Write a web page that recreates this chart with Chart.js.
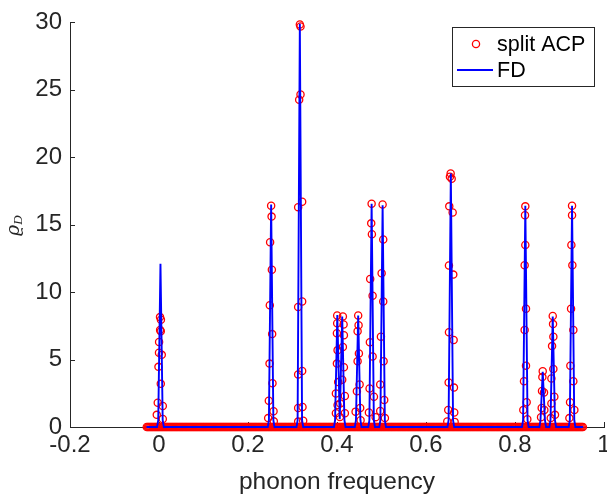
<!DOCTYPE html>
<html>
<head>
<meta charset="utf-8">
<script src="https://cdn.jsdelivr.net/npm/chart.js@4/dist/chart.umd.min.js"></script>
<style>
  html, body { margin: 0; padding: 0; background: #fff; overflow: hidden; }
  canvas { display: block; }
</style>
</head>
<body>
<canvas id="chart" width="630" height="497" style="width:630px;height:497px"></canvas>
<script>
// tick labels
var xTicks = [-0.2, 0, 0.2, 0.4, 0.6, 0.8, 1];
var yTicks = [0, 5, 10, 15, 20, 25, 30];

// split ACP samples lying on the zero line
var baseFreq = [
  -0.0275, -0.025, -0.0225, -0.02, -0.0175, -0.015, -0.0125, -0.01, -0.0075, -0.005, -0.0025,
  0, 0.0025, 0.005, 0.0075, 0.01, 0.0125, 0.015, 0.0175, 0.02, 0.0225, 0.025, 0.0275, 0.03, 0.0325, 0.035, 0.0375, 0.04, 0.0425, 0.045, 0.0475,
  0.05, 0.0525, 0.055, 0.0575, 0.06, 0.0625, 0.065, 0.0675, 0.07, 0.0725, 0.075, 0.0775, 0.08, 0.0825, 0.085, 0.0875, 0.09, 0.0925, 0.095, 0.0975,
  0.1, 0.1025, 0.105, 0.1075, 0.11, 0.1125, 0.115, 0.1175, 0.12, 0.1225, 0.125, 0.1275, 0.13, 0.1325, 0.135, 0.1375, 0.14, 0.1425, 0.145, 0.1475,
  0.15, 0.1525, 0.155, 0.1575, 0.16, 0.1625, 0.165, 0.1675, 0.17, 0.1725, 0.175, 0.1775, 0.18, 0.1825, 0.185, 0.1875, 0.19, 0.1925, 0.195, 0.1975,
  0.2, 0.2025, 0.205, 0.2075, 0.21, 0.2125, 0.215, 0.2175, 0.22, 0.2225, 0.225, 0.2275, 0.23, 0.2325, 0.235, 0.2375, 0.24, 0.2425, 0.245, 0.2475,
  0.25, 0.2525, 0.255, 0.2575, 0.26, 0.2625, 0.265, 0.2675, 0.27, 0.2725, 0.275, 0.2775, 0.28, 0.2825, 0.285, 0.2875, 0.29, 0.2925, 0.295, 0.2975,
  0.3, 0.3025, 0.305, 0.3075, 0.31, 0.3125, 0.315, 0.3175, 0.32, 0.3225, 0.325, 0.3275, 0.33, 0.3325, 0.335, 0.3375, 0.34, 0.3425, 0.345, 0.3475,
  0.35, 0.3525, 0.355, 0.3575, 0.36, 0.3625, 0.365, 0.3675, 0.37, 0.3725, 0.375, 0.3775, 0.38, 0.3825, 0.385, 0.3875, 0.39, 0.3925, 0.395, 0.3975,
  0.4, 0.4025, 0.405, 0.4075, 0.41, 0.4125, 0.415, 0.4175, 0.42, 0.4225, 0.425, 0.4275, 0.43, 0.4325, 0.435, 0.4375, 0.44, 0.4425, 0.445, 0.4475,
  0.45, 0.4525, 0.455, 0.4575, 0.46, 0.4625, 0.465, 0.4675, 0.47, 0.4725, 0.475, 0.4775, 0.48, 0.4825, 0.485, 0.4875, 0.49, 0.4925, 0.495, 0.4975,
  0.5, 0.5025, 0.505, 0.5075, 0.51, 0.5125, 0.515, 0.5175, 0.52, 0.5225, 0.525, 0.5275, 0.53, 0.5325, 0.535, 0.5375, 0.54, 0.5425, 0.545, 0.5475,
  0.55, 0.5525, 0.555, 0.5575, 0.56, 0.5625, 0.565, 0.5675, 0.57, 0.5725, 0.575, 0.5775, 0.58, 0.5825, 0.585, 0.5875, 0.59, 0.5925, 0.595, 0.5975,
  0.6, 0.6025, 0.605, 0.6075, 0.61, 0.6125, 0.615, 0.6175, 0.62, 0.6225, 0.625, 0.6275, 0.63, 0.6325, 0.635, 0.6375, 0.64, 0.6425, 0.645, 0.6475,
  0.65, 0.6525, 0.655, 0.6575, 0.66, 0.6625, 0.665, 0.6675, 0.67, 0.6725, 0.675, 0.6775, 0.68, 0.6825, 0.685, 0.6875, 0.69, 0.6925, 0.695, 0.6975,
  0.7, 0.7025, 0.705, 0.7075, 0.71, 0.7125, 0.715, 0.7175, 0.72, 0.7225, 0.725, 0.7275, 0.73, 0.7325, 0.735, 0.7375, 0.74, 0.7425, 0.745, 0.7475,
  0.75, 0.7525, 0.755, 0.7575, 0.76, 0.7625, 0.765, 0.7675, 0.77, 0.7725, 0.775, 0.7775, 0.78, 0.7825, 0.785, 0.7875, 0.79, 0.7925, 0.795, 0.7975,
  0.8, 0.8025, 0.805, 0.8075, 0.81, 0.8125, 0.815, 0.8175, 0.82, 0.8225, 0.825, 0.8275, 0.83, 0.8325, 0.835, 0.8375, 0.84, 0.8425, 0.845, 0.8475,
  0.85, 0.8525, 0.855, 0.8575, 0.86, 0.8625, 0.865, 0.8675, 0.87, 0.8725, 0.875, 0.8775, 0.88, 0.8825, 0.885, 0.8875, 0.89, 0.8925, 0.895, 0.8975,
  0.9, 0.9025, 0.905, 0.9075, 0.91, 0.9125, 0.915, 0.9175, 0.92, 0.9225, 0.925, 0.9275, 0.93, 0.9325, 0.935, 0.9375, 0.94, 0.9425, 0.945, 0.9475,
  0.95, 0.9525
];

// split ACP samples on the peaks
var acpFreq = [
  0.0023, 0.0043, 0.0025, 0.004, 0.0002, 0.0, 0.0062, -0.0012, 0.004, -0.0028, 0.0085, -0.005, 0.0085,
  0.252, 0.253, 0.2497, 0.2536, 0.249, 0.2543, 0.2484, 0.255, 0.2468, 0.2574, 0.2453, 0.258,
  0.3165, 0.318, 0.318, 0.315, 0.3217, 0.3127, 0.3217, 0.3127, 0.3217, 0.3127, 0.3225, 0.3127, 0.324, 0.3127,
  0.4004, 0.4004, 0.3998, 0.4013, 0.3998, 0.4027, 0.3975, 0.4013, 0.3975,
  0.4132, 0.4148, 0.4155, 0.4132, 0.4155, 0.4117, 0.4177, 0.4072, 0.4177, 0.4065,
  0.4476, 0.4485, 0.4463, 0.4492, 0.4463, 0.4508, 0.4447, 0.4521, 0.4418, 0.453,
  0.4778, 0.4769, 0.4784, 0.4746, 0.48, 0.4739, 0.48, 0.4732, 0.483, 0.4717, 0.4868,
  0.5025, 0.5039, 0.5003, 0.5039, 0.4987, 0.5047, 0.4971, 0.5061, 0.4971, 0.5077,
  0.6554, 0.6538, 0.6577, 0.6523, 0.6599, 0.6516, 0.6613, 0.6516, 0.6621, 0.6509, 0.6628, 0.65, 0.6635, 0.6478, 0.6644,
  0.8232, 0.8225, 0.8232, 0.8217, 0.8247, 0.8217, 0.8247, 0.8202, 0.8262, 0.8187, 0.8277,
  0.8623, 0.8615, 0.8607, 0.8652, 0.86, 0.866, 0.8585,
  0.8848, 0.8855, 0.8862, 0.8833, 0.8862, 0.8818, 0.8884, 0.8818, 0.8899, 0.8803,
  0.9282, 0.9282, 0.9267, 0.9289, 0.926, 0.9311, 0.9244, 0.9311, 0.9237, 0.9334, 0.9222
];
var acpRho = [
  8.15, 7.95, 7.2, 7.1, 6.3, 5.5, 5.35, 4.46, 3.2, 1.8, 1.56, 0.9, 0.6,
  16.4, 15.6, 13.7, 11.66, 9.03, 6.89, 4.7, 3.24, 1.95, 1.17, 0.66, 0.42,
  29.85, 29.7, 24.65, 24.27, 16.7, 16.3, 9.3, 8.9, 4.15, 3.9, 1.48, 1.41, 0.46, 0.4,
  8.27, 7.7, 6.96, 5.7, 4.7, 3.33, 2.48, 1.63, 1.02,
  8.2, 7.6, 6.8, 5.94, 4.43, 3.5, 2.3, 1.75, 1.02, 0.75,
  8.27, 7.55, 7.1, 5.45, 4.87, 3.16, 2.65, 1.41, 1.14, 0.5,
  16.55, 15.1, 14.3, 10.98, 9.74, 6.28, 5.23, 2.85, 2.24, 1.07, 0.73,
  16.5, 13.9, 11.4, 9.3, 6.7, 4.87, 3.16, 2.0, 1.19, 0.66,
  18.8, 18.55, 18.4, 16.36, 15.9, 11.98, 11.3, 7.03, 6.45, 3.3, 2.92, 1.26, 1.07, 0.41, 0.38,
  16.36, 15.7, 13.5, 12.0, 8.77, 7.2, 4.55, 3.4, 1.83, 1.26, 0.58,
  4.13, 3.7, 2.67, 2.56, 1.41, 1.26, 0.73,
  8.23, 7.63, 6.7, 6.0, 4.3, 3.6, 2.24, 1.75, 0.9, 0.66,
  16.4, 15.7, 13.5, 12.0, 8.77, 7.2, 4.55, 3.4, 1.83, 1.26, 0.66
];

// FD curve
var fdFreq = [
  -0.028,
  -0.0042, -0.0017, 0.0033, 0.0083, 0.0108,
  0.2445, 0.247, 0.252, 0.257, 0.2595,
  0.309, 0.3115, 0.3165, 0.3215, 0.324,
  0.3932, 0.3957, 0.4007, 0.4062, 0.4117, 0.4167, 0.4192,
  0.4401, 0.4426, 0.4476, 0.4526, 0.4551,
  0.4703, 0.4728, 0.4778, 0.4828, 0.4853,
  0.495, 0.4975, 0.5025, 0.5075, 0.51,
  0.6483, 0.6508, 0.6558, 0.6608, 0.6633,
  0.8157, 0.8182, 0.8232, 0.8282, 0.8307,
  0.8548, 0.8573, 0.8623, 0.8673, 0.8698,
  0.8773, 0.8798, 0.8848, 0.8898, 0.8923,
  0.9207, 0.9232, 0.9282, 0.9332, 0.9357,
  0.953
];
var fdRho = [
  0,
  0, 0.5, 12.1, 0.5, 0,
  0, 0.5, 16.5, 0.5, 0,
  0, 0.5, 29.9, 0.5, 0,
  0, 0.5, 8.3, 0.6, 8.2, 0.5, 0,
  0, 0.5, 8.27, 0.5, 0,
  0, 0.5, 16.55, 0.5, 0,
  0, 0.5, 16.45, 0.5, 0,
  0, 0.5, 18.8, 0.5, 0,
  0, 0.5, 16.4, 0.5, 0,
  0, 0.5, 4.1, 0.5, 0,
  0, 0.5, 8.2, 0.5, 0,
  0, 0.5, 16.4, 0.5, 0,
  0
];

var axisColor = "#262626";
var fontFamily = '"Liberation Sans", Arial, Helvetica, sans-serif';

var acpPoints = baseFreq.map(f => ({ x: f, y: 0 }));
acpFreq.forEach((f, i) => acpPoints.push({ x: f, y: acpRho[i] }));
var fdPoints = fdFreq.map((f, i) => ({ x: f, y: fdRho[i] }));

// inward tick marks, MATLAB style
var innerTicks = {
  id: "innerTicks",
  beforeDatasetsDraw: function(chart) {
    var ctx = chart.ctx, a = chart.chartArea;
    var xs = chart.scales.x, ys = chart.scales.y;
    ctx.save();
    ctx.strokeStyle = axisColor;
    ctx.lineWidth = 1;
    ctx.beginPath();
    xTicks.forEach(v => {
      var px = Math.round(xs.getPixelForValue(v)) + 0.5;
      ctx.moveTo(px, a.bottom);
      ctx.lineTo(px, a.bottom - 5);
    });
    yTicks.forEach(v => {
      var py = Math.round(ys.getPixelForValue(v)) + 0.5;
      ctx.moveTo(a.left, py);
      ctx.lineTo(a.left + 5, py);
    });
    ctx.stroke();
    ctx.restore();
  }
};

// y label and legend box
var extras = {
  id: "extras",
  afterDraw: function(chart) {
    var ctx = chart.ctx;
    ctx.save();
    ctx.translate(19, 225);
    ctx.rotate(-Math.PI / 2);
    ctx.fillStyle = axisColor;
    ctx.textBaseline = "alphabetic";
    ctx.textAlign = "left";
    ctx.font = 'italic 19px "DejaVu Serif", serif';
    var w = ctx.measureText("\u03f1").width;
    ctx.fillText("\u03f1", -11, 0);
    ctx.font = 'italic 13px "Liberation Serif", serif';
    ctx.fillText("D", -11 + w, 3);
    ctx.restore();

    ctx.save();
    ctx.fillStyle = "#fff";
    ctx.fillRect(452, 27, 142, 59);
    ctx.strokeStyle = axisColor;
    ctx.lineWidth = 1;
    ctx.strokeRect(452.5, 27.5, 142, 59);
    ctx.strokeStyle = "#ff0000";
    ctx.lineWidth = 1.3;
    ctx.beginPath();
    ctx.arc(476, 44, 3.6, 0, Math.PI * 2);
    ctx.stroke();
    ctx.strokeStyle = "#0000ff";
    ctx.lineWidth = 1.8;
    ctx.beginPath();
    ctx.moveTo(457, 70);
    ctx.lineTo(493, 70);
    ctx.stroke();
    ctx.fillStyle = "#000";
    ctx.font = "21.5px " + fontFamily;
    ctx.textBaseline = "middle";
    ctx.fillText(chart.data.datasets[1].label, 497, 45);
    ctx.fillText(chart.data.datasets[0].label, 497, 71);
    ctx.restore();
  }
};

var ctx = document.getElementById("chart").getContext("2d");
var myChart = new Chart(ctx, {
  type: "scatter",
  data: {
    datasets: [
      {
        type: "line",
        label: "FD",
        data: fdPoints,
        borderColor: "#0000ff",
        borderWidth: 1.9,
        pointRadius: 0,
        tension: 0,
        fill: false,
        clip: false,
        order: 0
      },
      {
        label: "split ACP",
        data: acpPoints,
        borderColor: "#ff0000",
        backgroundColor: "rgba(0,0,0,0)",
        borderWidth: 1.3,
        pointRadius: 3.6,
        clip: false,
        order: 1
      }
    ]
  },
  options: {
    responsive: false,
    animation: false,
    devicePixelRatio: 1,
    layout: { padding: { top: 17, right: 26, left: 0, bottom: 0 } },
    plugins: { legend: { display: false }, tooltip: { enabled: false } },
    scales: {
      x: {
        type: "linear",
        min: -0.2,
        max: 1,
        afterBuildTicks: s => { s.ticks = xTicks.map(v => ({ value: v })); },
        afterFit: s => { s.height = 70; },
        grid: { display: false, drawTicks: false },
        border: { display: true, color: axisColor, width: 1 },
        ticks: {
          color: axisColor,
          padding: 4,
          maxRotation: 0,
          autoSkip: false,
          font: { family: fontFamily, size: 24 },
          callback: v => String(v)
        },
        title: {
          display: true,
          text: "phonon frequency",
          color: axisColor,
          padding: { top: 0, bottom: 0 },
          font: { family: fontFamily, size: 24.5 }
        }
      },
      y: {
        min: 0,
        max: 30,
        afterBuildTicks: s => { s.ticks = yTicks.map(v => ({ value: v })); },
        afterFit: s => { s.width = 70; },
        grid: { display: false, drawTicks: false },
        border: { display: true, color: axisColor, width: 1 },
        ticks: {
          color: axisColor,
          padding: 8,
          autoSkip: false,
          font: { family: fontFamily, size: 24 },
          callback: v => String(v)
        }
      }
    }
  },
  plugins: [innerTicks, extras]
});
</script>
</body>
</html>
